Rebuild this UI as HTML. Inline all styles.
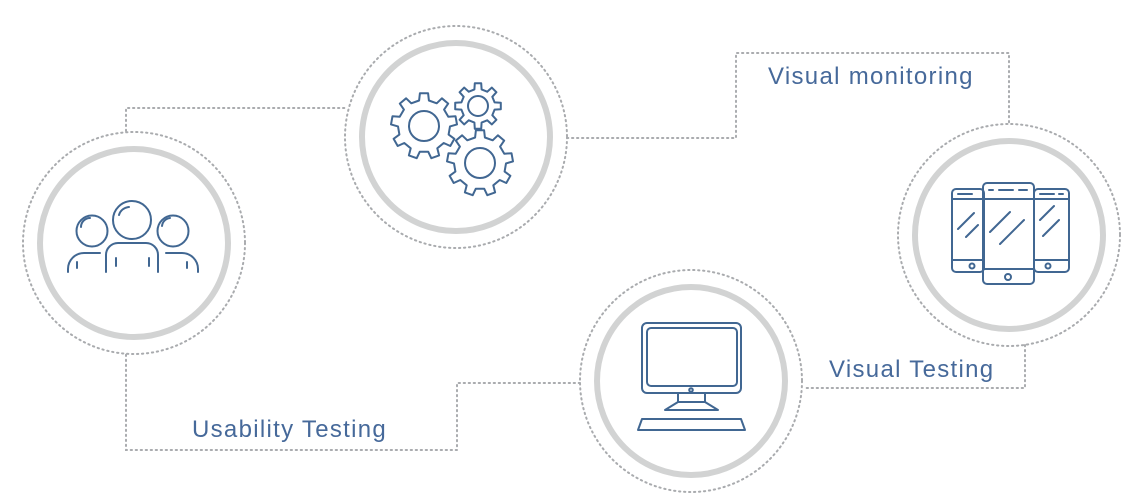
<!DOCTYPE html>
<html><head><meta charset="utf-8"><style>
html,body{margin:0;padding:0;background:#fff;width:1140px;height:503px;overflow:hidden}
text{font-family:"Liberation Sans",sans-serif;fill:#46699a;font-size:24px;letter-spacing:1.3px}
</style></head><body>
<svg width="1140" height="503" viewBox="0 0 1140 503" xmlns="http://www.w3.org/2000/svg">
<g fill="none" stroke="#a9abae" stroke-width="2" stroke-dasharray="1.3 3.7" stroke-linecap="round">
<path d="M126 131 V108 H347"/>
<path d="M567 138 H736 V53 H1009 V125"/>
<path d="M1025 345 V388 H803"/>
<path d="M580 383 H457 V450 H126 V352"/>
<circle cx="134" cy="243" r="111"/>
<circle cx="456" cy="137" r="111"/>
<circle cx="1009" cy="235" r="111"/>
<circle cx="691" cy="381" r="111"/>
</g>
<g fill="#fff" stroke="#d2d3d3" stroke-width="6">
<circle cx="134" cy="243" r="94"/>
<circle cx="456" cy="137" r="94"/>
<circle cx="1009" cy="235" r="94"/>
<circle cx="691" cy="381" r="94"/>
</g>
<text x="768" y="84">Visual monitoring</text>
<text x="829" y="377">Visual Testing</text>
<text x="192" y="437">Usability Testing</text>
<g fill="none" stroke="#416792" stroke-width="2" stroke-linecap="round" stroke-linejoin="round">
<circle cx="92" cy="231" r="15.5"/><circle cx="132" cy="220" r="19"/><circle cx="173" cy="231" r="15.5"/>
<path d="M81 227 a9 9 0 0 1 9 -9"/><path d="M119 215 a11 11 0 0 1 10 -8"/><path d="M162 226 a9 9 0 0 1 8 -8"/>
<path d="M68 272 v-3 a16 16 0 0 1 16 -16 h16"/><path d="M198 272 v-3 a16 16 0 0 0 -16 -16 h-16"/>
<path d="M106 272 v-17 a12 12 0 0 1 12 -12 h28 a12 12 0 0 1 12 12 v17"/>
<path d="M77 262 v6 M116 258 v8 M149 258 v8 M187 262 v6"/>
<path id="g1" d=""/><path id="g2" d=""/><path id="g3" d=""/>
<circle cx="424" cy="126" r="15"/><circle cx="478" cy="106" r="10"/><circle cx="480" cy="163" r="15"/>
<rect x="952" y="189" width="32" height="83" rx="4"/>
<rect x="1034" y="189" width="35" height="83" rx="4"/>
<rect x="983" y="183" width="51" height="101" rx="4"/>
<path d="M983 199 H1034 M983 269 H1034 M952 199 H983 M952 260 H983 M1034 199 H1069 M1034 260 H1069"/>
<path d="M989 190 h4 M999 190 h14 M1019 190 h8 M958 194 h14 M1040 194 h14 M1059 194 h4"/>
<circle cx="1008" cy="277" r="3"/><circle cx="972" cy="266" r="2.5"/><circle cx="1048" cy="266" r="2.5"/>
<path d="M958 229 l16 -16 M966 237 l12 -12 M990 232 l20 -20 M1000 244 l24 -24 M1040 220 l14 -14 M1043 236 l16 -16"/>
<rect x="642" y="323" width="99" height="70" rx="5"/>
<rect x="647" y="328" width="90" height="58" rx="4"/>
<circle cx="691" cy="390" r="1.8"/>
<path d="M678 393 v9 M705 393 v9 M665 410 L678 402 H705 L718 410 Z"/>
<path d="M638 430 L642 419 H741 L745 430 Z"/>
</g>
</svg>
<script>
function gear(cx,cy,r1,r2,n){var d="",s=Math.PI*2/n;for(var i=0;i<n;i++){var a=i*s-Math.PI/2;
var p=[[a-s*0.27,r1],[a-s*0.18,r2],[a+s*0.18,r2],[a+s*0.27,r1],[a+s*0.73,r1]];
p.forEach(function(q,j){var x=cx+q[1]*Math.cos(q[0]),y=cy+q[1]*Math.sin(q[0]);d+=(i==0&&j==0?"M":"L")+x.toFixed(1)+" "+y.toFixed(1)+" ";});}
return d+"Z";}
document.getElementById("g1").setAttribute("d",gear(424,126,26,33,9));
document.getElementById("g2").setAttribute("d",gear(478,106,17,23,8));
document.getElementById("g3").setAttribute("d",gear(480,163,26,33,9));
</script>
</body></html>
